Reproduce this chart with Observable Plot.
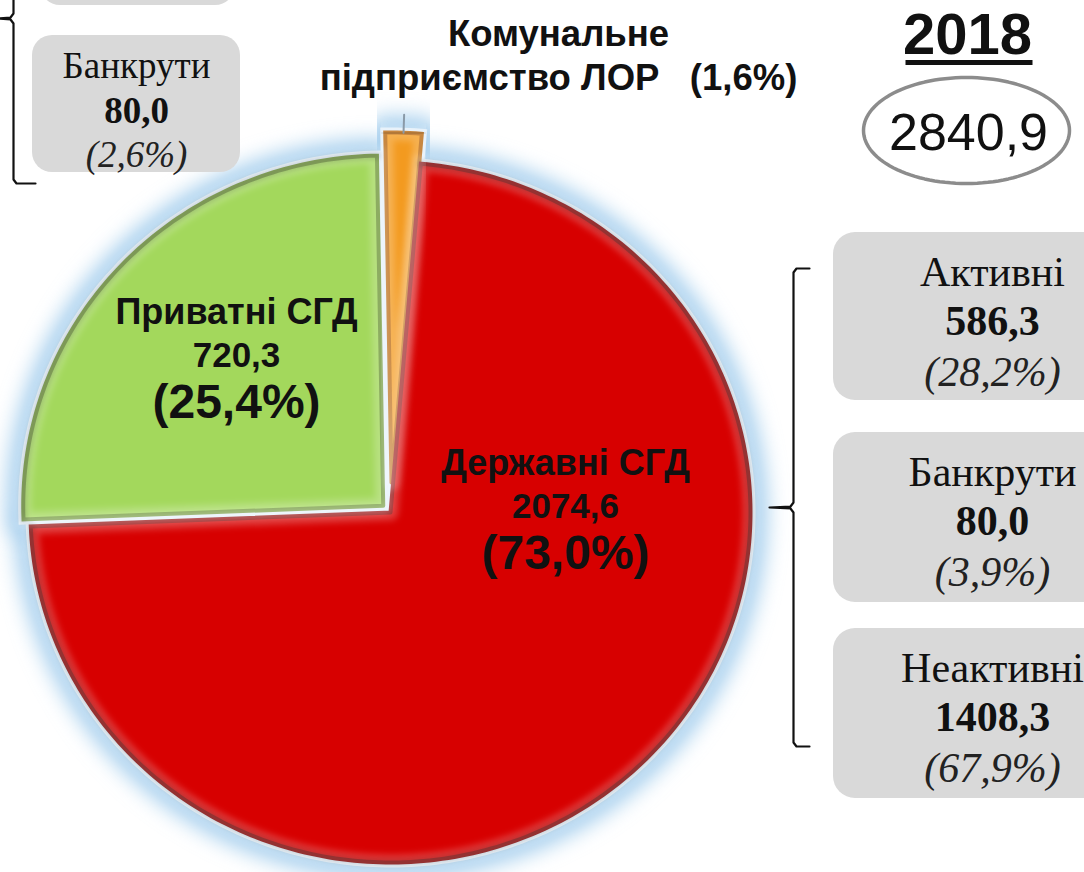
<!DOCTYPE html>
<html><head><meta charset="utf-8">
<script src="https://cdn.jsdelivr.net/npm/d3@7"></script>
<script src="https://cdn.jsdelivr.net/npm/@observablehq/plot@0.6"></script>
<style>
body{margin:0;background:#fff}
#chart{position:relative;width:1084px;height:872px;overflow:hidden}
</style>
</head><body><div id="chart"></div>
<script>
// ---- data ----
const sectorNames = ["Комунальне підприємство ЛОР", "Державні СГД", "Приватні СГД"];
const sectorValues = [46.0, 2074.6, 720.3];
const sectorValueLabels = ["46,0", "2074,6", "720,3"];
const sectorPercents = ["1,6%", "73,0%", "25,4%"];
const sectorColors = ["#f39a1f", "#d70000", "#a3d85c"];
const sectorRims = ["#b8650a", "#8e0000", "#6d9536"];
const yearLabel = "2018";
const totalLabel = "2840,9";
const stateGroups = ["Активні", "Банкрути", "Неактивні"];
const stateValues = ["586,3", "80,0", "1408,3"];
const statePercents = ["28,2%", "3,9%", "67,9%"];
const privateGroups = ["Банкрути"];
const privateValues = ["80,0"];
const privatePercents = ["2,6%"];

// ---- layout ----
const W = 1084, H = 872;
const CX = 390, CY = 512, RX = 360, RY = 350;
const startDeg = -1;
const explode = [30, 0, 10];
const rad = d => d * Math.PI / 180;

const pie = d3.pie().sort(null).startAngle(rad(startDeg)).endAngle(rad(startDeg) + 2 * Math.PI)(sectorValues);
const slices = pie.map((p, i) => {
  const mid = (p.startAngle + p.endAngle) / 2;
  const ox = CX + explode[i] * Math.sin(mid), oy = CY - explode[i] * Math.cos(mid);
  const pts = [{x: ox, y: oy}];
  const n = Math.max(4, Math.ceil((p.endAngle - p.startAngle) / rad(1)));
  for (let k = 0; k <= n; k++) {
    const a = p.startAngle + (p.endAngle - p.startAngle) * k / n;
    pts.push({x: ox + RX * Math.sin(a), y: oy - RY * Math.cos(a)});
  }
  pts.push({x: ox, y: oy});
  return {i, mid, ox, oy, pts};
});

// leader for the small slice
const sm = slices[0];
const leader = [
  {x: sm.ox + RX * Math.sin(sm.mid), y: sm.oy - RY * Math.cos(sm.mid)},
  {x: sm.ox + (RX + 18) * Math.sin(sm.mid), y: sm.oy - (RY + 18) * Math.cos(sm.mid)}
];

// ellipse around total
const ell = d3.range(0, 361, 3).map(d => ({x: 966 + 103 * Math.cos(rad(d)), y: 130 + 53 * Math.sin(rad(d))}));
const underline = [{x: 905, y: 62}, {x: 1032, y: 62}];

// boxes
const rightBoxes = stateGroups.map((g, i) => ({g, v: stateValues[i], p: "(" + statePercents[i] + ")",
  x1: 833, x2: 1152, y1: [232, 432, 628][i], y2: [400, 602, 798][i]}));
const leftBoxes = privateGroups.map((g, i) => ({g, v: privateValues[i], p: "(" + privatePercents[i] + ")",
  x1: 32, x2: 240, y1: 35, y2: 172}));

// braces
function brace(x, y1, y2, hook, tip) {
  const m = (y1 + y2) / 2;
  return [{x: x + hook, y: y1}, {x: x + 3, y: y1}, {x: x, y: y1 + 4}, {x: x, y: m - 5}, {x: x - 3, y: m - 1}, {x: x + tip, y: m},
          {x: x - 3, y: m + 1}, {x: x, y: m + 5}, {x: x, y: y2 - 4}, {x: x + 3, y: y2}, {x: x + hook, y: y2}];
}
const rightBrace = brace(793, 268, 746, 16, -24);
const leftBrace = brace(13, -147, 183, 22, -16);

const sans = "Liberation Sans, Arial, sans-serif";
const serif = "Liberation Serif, Times New Roman, serif";

const GLOW = "#a9d0ee", BEVEL = "#fffffe", SHADE = "#000001";
const marks = [];
// glow
slices.forEach(s => marks.push(Plot.line(s.pts, {x: "x", y: "y", fill: GLOW, stroke: GLOW, strokeWidth: 34, strokeLinejoin: "round"})));
// light outline
slices.forEach(s => marks.push(Plot.line(s.pts, {x: "x", y: "y", fill: "#e3eff9", stroke: "#e3eff9", strokeWidth: 10, strokeLinejoin: "miter", strokeMiterlimit: 4})));
// slices
slices.forEach(s => marks.push(Plot.line(s.pts, {x: "x", y: "y", fill: sectorColors[s.i], stroke: sectorRims[s.i], strokeWidth: 4, strokeLinejoin: "miter", strokeMiterlimit: 4})));
// inner highlight (bevel)
slices.forEach(s => marks.push(Plot.line(s.pts, {x: "x", y: "y", fill: "none", stroke: BEVEL, strokeOpacity: 0.22, strokeWidth: 16, strokeLinejoin: "miter", strokeMiterlimit: 4})));
// darker rim
slices.forEach(s => marks.push(Plot.line(s.pts.slice(1, -1), {x: "x", y: "y", fill: "none", stroke: SHADE, strokeOpacity: 0.12, strokeWidth: 8})));
marks.push(Plot.line(leader, {x: "x", y: "y", stroke: "#8a9aa8", strokeWidth: 2}));

// boxes
marks.push(Plot.rect([{x1: 40, x2: 235, y1: -140, y2: 5}], {x1: "x1", x2: "x2", y1: "y1", y2: "y2", fill: "#d9d9d9", rx: 20}));
marks.push(Plot.rect(rightBoxes, {x1: "x1", x2: "x2", y1: "y1", y2: "y2", fill: "#d9d9d9", rx: 22}));
marks.push(Plot.rect(leftBoxes, {x1: "x1", x2: "x2", y1: "y1", y2: "y2", fill: "#d9d9d9", rx: 20}));
marks.push(Plot.text(rightBoxes, {x: () => 992, y: d => d.y1 + 40, text: "g", fontFamily: serif, fontSize: 42, fill: "#111"}));
marks.push(Plot.text(rightBoxes, {x: () => 992, y: d => d.y1 + 89, text: "v", fontFamily: serif, fontSize: 42, fontWeight: "bold", fill: "#111"}));
marks.push(Plot.text(rightBoxes, {x: () => 992, y: d => d.y1 + 140, text: "p", fontFamily: serif, fontSize: 42, fontStyle: "italic", fill: "#222"}));
marks.push(Plot.text(leftBoxes, {x: () => 136, y: d => d.y1 + 31, text: "g", fontFamily: serif, fontSize: 37, fill: "#111"}));
marks.push(Plot.text(leftBoxes, {x: () => 136, y: d => d.y1 + 76, text: "v", fontFamily: serif, fontSize: 37, fontWeight: "bold", fill: "#111"}));
marks.push(Plot.text(leftBoxes, {x: () => 136, y: d => d.y1 + 120, text: "p", fontFamily: serif, fontSize: 37, fontStyle: "italic", fill: "#222"}));

// braces
marks.push(Plot.line(rightBrace, {x: "x", y: "y", stroke: "#111", strokeWidth: 2.2, curve: "linear"}));
marks.push(Plot.line(leftBrace, {x: "x", y: "y", stroke: "#111", strokeWidth: 2.2, curve: "linear"}));

// sector labels
const labelPos = [null, {x: 565, y: 463}, {x: 236, y: 312}];
[1, 2].forEach(i => {
  const lp = labelPos[i];
  marks.push(Plot.text([sectorNames[i]], {x: () => lp.x, y: () => lp.y, text: d => d, fontFamily: sans, fontWeight: "bold", fontSize: 36, fill: "#111"}));
  marks.push(Plot.text([sectorValueLabels[i]], {x: () => lp.x, y: () => lp.y + 43, text: d => d, fontFamily: sans, fontWeight: "bold", fontSize: 35, fill: "#111"}));
  marks.push(Plot.text([sectorPercents[i]], {x: () => lp.x, y: () => lp.y + 90, text: d => "(" + d + ")", fontFamily: sans, fontWeight: "bold", fontSize: 48, fill: "#111"}));
});
// small sector label (two lines)
marks.push(Plot.text(["Комунальне", "підприємство ЛОР   (" + sectorPercents[0] + ")"], {x: () => 558, y: (d, i) => [34, 78][i], text: d => d, fontFamily: sans, fontWeight: "bold", fontSize: 36.5, fill: "#111"}));

// year & total
marks.push(Plot.text([yearLabel], {x: () => 967, y: () => 35, text: d => d, fontFamily: sans, fontWeight: "bold", fontSize: 58, fill: "#111"}));
marks.push(Plot.line(underline, {x: "x", y: "y", stroke: "#111", strokeWidth: 5, strokeLinecap: "butt"}));
marks.push(Plot.line(ell, {x: "x", y: "y", stroke: "#8c8c8c", strokeWidth: 3.5, curve: "linear"}));
marks.push(Plot.text([totalLabel], {x: () => 968, y: () => 133, text: d => d, fontFamily: sans, fontSize: 52, fill: "#111"}));

const chart = Plot.plot({
  width: W, height: H, margin: 0,
  x: {domain: [0, W], range: [0, W], axis: null},
  y: {domain: [0, H], range: [0, H], axis: null},
  style: {background: "#fff", overflow: "hidden"},
  marks
});
const ns = "http://www.w3.org/2000/svg";
const defs = document.createElementNS(ns, "defs");
defs.innerHTML = '<filter id="glowf" x="-20%" y="-20%" width="140%" height="140%"><feGaussianBlur stdDeviation="10"/></filter>' +
  '<filter id="bevf" x="-10%" y="-10%" width="120%" height="120%"><feGaussianBlur stdDeviation="3"/></filter>' +
  '<filter id="shf" x="-10%" y="-10%" width="120%" height="120%"><feGaussianBlur stdDeviation="2"/></filter>';
chart.insertBefore(defs, chart.firstChild);
chart.querySelectorAll("g").forEach(g => {
  const s = (g.getAttribute("stroke") || "").toLowerCase();
  if (s === GLOW) g.setAttribute("filter", "url(#glowf)");
  if (s === BEVEL) g.setAttribute("filter", "url(#bevf)");
  if (s === SHADE) g.setAttribute("filter", "url(#shf)");
});
document.getElementById("chart").appendChild(chart);
</script>
</body></html>
